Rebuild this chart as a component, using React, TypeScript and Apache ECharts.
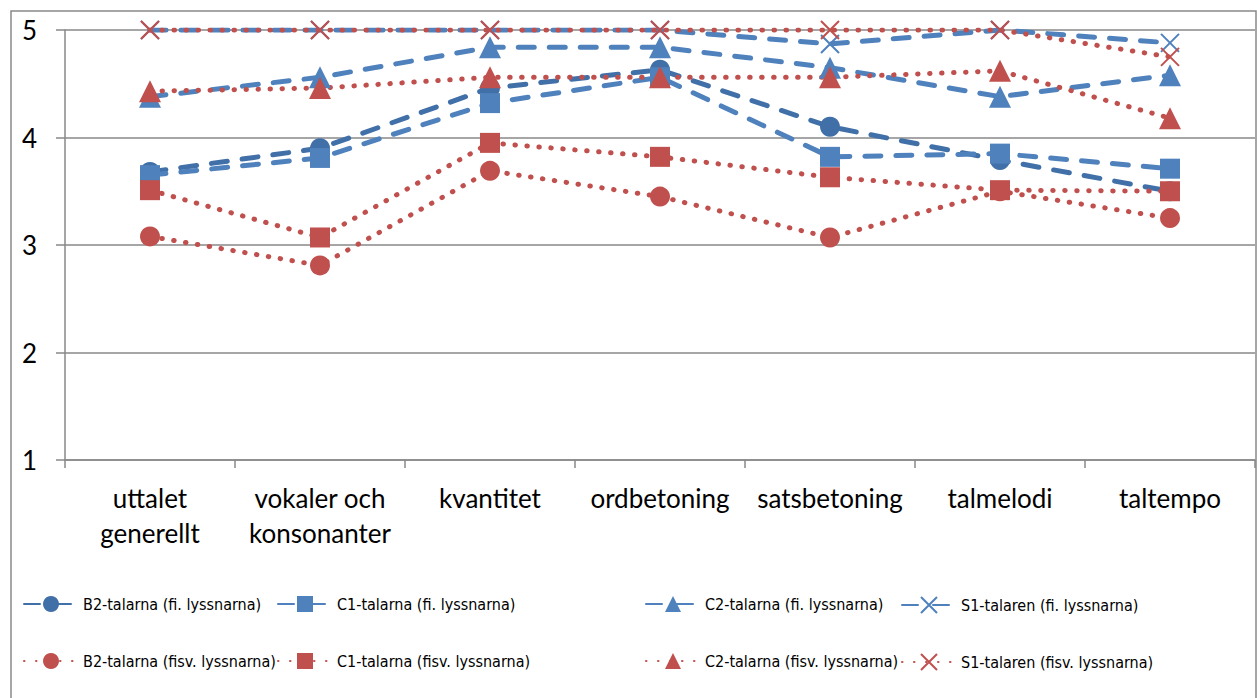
import React, { useEffect, useRef } from "react";
import * as echarts from "echarts";

const categories = [
  "uttalet\ngenerellt",
  "vokaler och\nkonsonanter",
  "kvantitet",
  "ordbetoning",
  "satsbetoning",
  "talmelodi",
  "taltempo",
];

const b2Fi = [3.68, 3.9, 4.46, 4.63, 4.1, 3.79, 3.5];
const c1Fi = [3.65, 3.81, 4.32, 4.56, 3.82, 3.85, 3.71];
const c2Fi = [4.38, 4.56, 4.84, 4.84, 4.65, 4.38, 4.58];
const s1Fi = [5, 5, 5, 5, 4.87, 5, 4.88];
const b2Fisv = [3.08, 2.81, 3.69, 3.45, 3.07, 3.5, 3.25];
const c1Fisv = [3.51, 3.07, 3.95, 3.82, 3.63, 3.51, 3.5];
const c2Fisv = [4.43, 4.46, 4.56, 4.56, 4.56, 4.62, 4.18];
const s1Fisv = [5, 5, 5, 5, 5, 5, 4.75];

const seriesNames = [
  "B2-talarna (fi. lyssnarna)",
  "C1-talarna (fi. lyssnarna)",
  "C2-talarna (fi. lyssnarna)",
  "S1-talaren (fi. lyssnarna)",
  "B2-talarna (fisv. lyssnarna)",
  "C1-talarna (fisv. lyssnarna)",
  "C2-talarna (fisv. lyssnarna)",
  "S1-talaren (fisv. lyssnarna)",
];
const seriesData = [b2Fi, c1Fi, c2Fi, s1Fi, b2Fisv, c1Fisv, c2Fisv, s1Fisv];

const DARK_BLUE = "#4170a8";
const BLUE = "#4f81bd";
const RED = "#c0504d";
const X_PATH = "path://M0,0L10,10M10,0L0,10";

export default function App() {
  const ref = useRef<HTMLDivElement>(null);
  useEffect(() => {
    if (!ref.current) return;
    const chart = echarts.init(ref.current, undefined, { renderer: "svg" });
    const colors = [DARK_BLUE, BLUE, BLUE, BLUE, RED, RED, RED, RED];
    const symbols = ["circle", "rect", "triangle", X_PATH, "circle", "rect", "triangle", X_PATH];
    const series = seriesNames.map((name, i) => {
      const isFi = i < 4;
      const isX = symbols[i] === X_PATH;
      return {
        name,
        type: "line",
        data: seriesData[i],
        symbol: symbols[i],
        symbolSize: isX ? 18 : symbols[i] === "triangle" ? 22 : 20,
        itemStyle: {
          color: colors[i],
          borderColor: colors[i],
          borderWidth: isX ? 2 : 0,
        },
        lineStyle: {
          color: colors[i],
          width: isFi ? 5 : 5,
          type: isFi ? [16, 15] : [0.5, 11.5],
          cap: "round",
        },
        z: 2,
      };
    });
    const legendPos = [
      [18, 591],
      [272, 591],
      [640, 591],
      [896, 591],
      [18, 648],
      [272, 648],
      [640, 648],
      [896, 648],
    ];
    const legends = seriesNames.map((name, i) => ({
      data: [name],
      left: legendPos[i][0],
      top: legendPos[i][1],
      itemWidth: 54,
      itemHeight: 20,
      itemGap: 0,
      textStyle: {
        color: "#000",
        fontSize: 16,
        fontFamily: "'DejaVu Sans Condensed', 'Liberation Sans Narrow', 'Noto Sans', sans-serif",
      },
    }));
    chart.setOption({
      animation: false,
      backgroundColor: "#fff",
      grid: { left: 65, top: 30, right: 2, bottom: 238, containLabel: false },
      legend: legends,
      xAxis: {
        type: "category",
        data: categories,
        boundaryGap: true,
        axisLine: { show: true, lineStyle: { color: "#898989", width: 1.5 } },
        axisTick: { show: true, length: 8, lineStyle: { color: "#898989", width: 1.5 } },
        axisLabel: {
          color: "#000",
          fontSize: 26,
          lineHeight: 35,
          margin: 20,
          fontFamily: "Lato, 'Open Sans', sans-serif",
          interval: 0,
        },
      },
      yAxis: {
        type: "value",
        min: 1,
        max: 5,
        interval: 1,
        axisLine: { show: true, lineStyle: { color: "#898989", width: 1.5 } },
        axisTick: { show: true, length: 9, lineStyle: { color: "#898989", width: 1.5 } },
        splitLine: { show: true, lineStyle: { color: "#898989", width: 1.5 } },
        axisLabel: {
          color: "#000",
          fontSize: 26,
          margin: 28,
          fontFamily: "Lato, 'Open Sans', sans-serif",
        },
      },
      graphic: [
        {
          type: "rect",
          shape: { x: 11, y: 11, width: 1245, height: 700 },
          style: { fill: "none", stroke: "#898989", lineWidth: 1.5 },
          silent: true,
          z: 0,
        },
      ],
      series,
    });
    return () => chart.dispose();
  }, []);
  return (
    <div
      ref={ref}
      style={{ position: "fixed", left: 0, top: 0, width: 1257, height: 698 }}
    />
  );
}
